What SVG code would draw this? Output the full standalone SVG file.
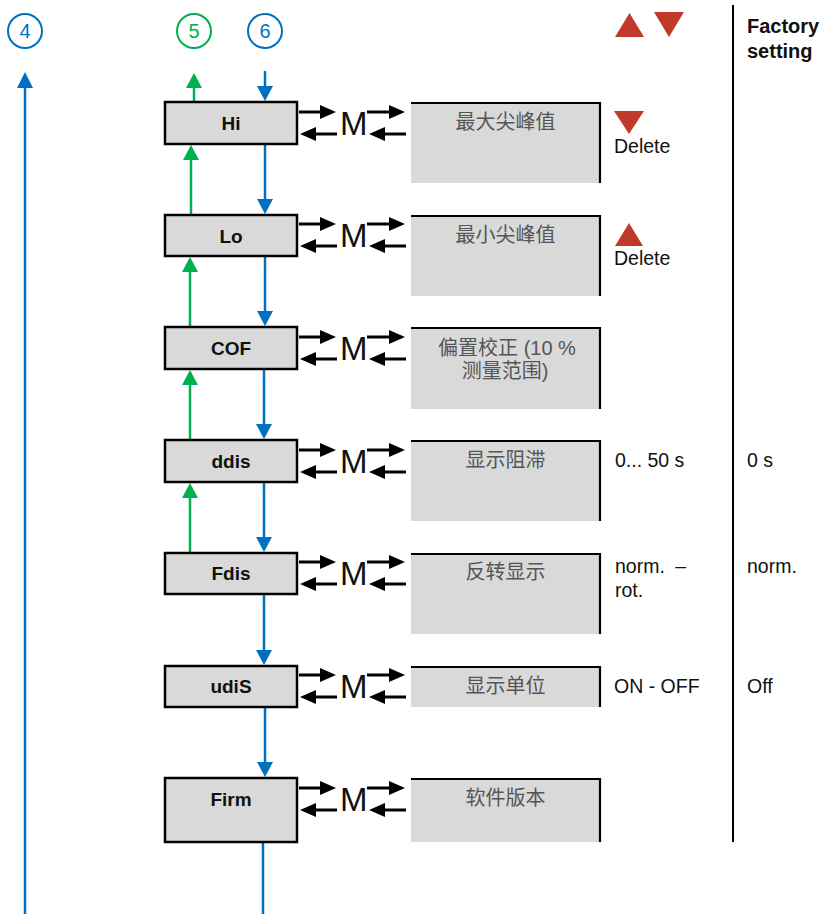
<svg xmlns="http://www.w3.org/2000/svg" width="825" height="914" viewBox="0 0 825 914">
<style>
.node{fill:#d9d9d9;stroke:#000;stroke-width:2.5}
.lbl{font-family:"Liberation Sans",Arial,sans-serif;font-weight:bold;font-size:19px;text-anchor:middle;fill:#111}
.disp{fill:#d9d9d9}
.edge{stroke:#000;stroke-width:2.2;fill:none}
.cjk{font-family:"Liberation Sans","Noto Sans CJK SC",sans-serif;font-size:20px;text-anchor:middle;fill:#555}
.rt{font-family:"Liberation Sans",Arial,sans-serif;font-size:19.5px;fill:#111}
.blue{stroke:#0070c0;stroke-width:2.5;fill:none}
.green{stroke:#00b050;stroke-width:2.5;fill:none}
.hb{fill:#0070c0}
.hg{fill:#00b050}
.red{fill:#c0392b}
.m{font-family:"Liberation Sans",Arial,sans-serif;font-size:33px;fill:#111}
.ma{stroke:#000;stroke-width:3}
</style>
<defs>
<g id="mpair">
<line class="ma" x1="299" y1="10" x2="322" y2="10"/>
<polygon points="320,3 336,10 320,17" fill="#000"/>
<line class="ma" x1="337" y1="32" x2="314" y2="32"/>
<polygon points="316,25 300,32 316,39" fill="#000"/>
<text class="m" x="340" y="33">M</text>
<line class="ma" x1="367" y1="10" x2="391" y2="10"/>
<polygon points="389,3 405,10 389,17" fill="#000"/>
<line class="ma" x1="406" y1="32" x2="383" y2="32"/>
<polygon points="385,25 369,32 385,39" fill="#000"/>
</g>
</defs>
<rect width="825" height="914" fill="#fff"/>

<!-- header -->
<g id="ref4">
<circle cx="25" cy="31" r="17" fill="none" stroke="#0070c0" stroke-width="2"/>
<text x="25" y="38" font-family="Liberation Sans,Arial,sans-serif" font-size="20" text-anchor="middle" fill="#0070c0">4</text>
</g>
<g id="ref5">
<circle cx="194" cy="31" r="17" fill="none" stroke="#00b050" stroke-width="2"/>
<text x="194" y="38" font-family="Liberation Sans,Arial,sans-serif" font-size="20" text-anchor="middle" fill="#00b050">5</text>
</g>
<g id="ref6">
<circle cx="265" cy="31" r="17" fill="none" stroke="#0070c0" stroke-width="2"/>
<text x="265" y="38" font-family="Liberation Sans,Arial,sans-serif" font-size="20" text-anchor="middle" fill="#0070c0">6</text>
</g>
<g id="keys">
<polygon class="red" points="615,37 629.5,13 644,37"/>
<polygon class="red" points="654,12 684,12 669,37"/>
</g>
<g id="factory">
<text x="747" y="33" font-family="Liberation Sans,Arial,sans-serif" font-weight="bold" font-size="20" fill="#111">Factory</text>
<text x="747" y="58" font-family="Liberation Sans,Arial,sans-serif" font-weight="bold" font-size="20" fill="#111">setting</text>
</g>
<line x1="733" y1="5" x2="733" y2="842" stroke="#000" stroke-width="2"/>

<!-- connectors -->
<g id="connectors">
<line class="blue" x1="25" y1="914" x2="25" y2="85"/>
<polygon class="hb" points="17,88 33,88 25,72"/>

<line class="green" x1="194" y1="102" x2="194" y2="86"/>
<polygon class="hg" points="186,88 202,88 194,73"/>
<line class="blue" x1="265" y1="71" x2="265" y2="88"/>
<polygon class="hb" points="257,86 273,86 265,101"/>

<line class="green" x1="191" y1="215" x2="191" y2="158"/>
<polygon class="hg" points="183,160 199,160 191,145"/>
<line class="blue" x1="265" y1="144" x2="265" y2="201"/>
<polygon class="hb" points="257,199 273,199 265,214"/>

<line class="green" x1="190" y1="327" x2="190" y2="270"/>
<polygon class="hg" points="182,272 198,272 190,257"/>
<line class="blue" x1="265" y1="257" x2="265" y2="313"/>
<polygon class="hb" points="257,311 273,311 265,326"/>

<line class="green" x1="190" y1="440" x2="190" y2="383"/>
<polygon class="hg" points="182,385 198,385 190,370"/>
<line class="blue" x1="264" y1="369" x2="264" y2="426"/>
<polygon class="hb" points="256,424 272,424 264,439"/>

<line class="green" x1="190" y1="553" x2="190" y2="496"/>
<polygon class="hg" points="182,498 198,498 190,483"/>
<line class="blue" x1="264" y1="482" x2="264" y2="539"/>
<polygon class="hb" points="256,537 272,537 264,552"/>

<line class="blue" x1="264" y1="594" x2="264" y2="652"/>
<polygon class="hb" points="256,650 272,650 264,665"/>

<line class="blue" x1="265" y1="707" x2="265" y2="764"/>
<polygon class="hb" points="257,762 273,762 265,777"/>

<line class="blue" x1="263" y1="842" x2="263" y2="914"/>
</g>

<!-- rows -->
<g id="Hi">
<rect class="node" x="165" y="102" width="132" height="42"/>
<text class="lbl" x="231" y="130">Hi</text>
<use href="#mpair" transform="translate(0,102)"/>
<rect class="disp" x="411" y="102" width="189" height="81"/>
<path class="edge" d="M411,103 H600 V183"/>
<text class="cjk" x="505.5" y="129">最大尖峰值</text>
<polygon class="red" points="614,111 644,111 629,134"/>
<text class="rt" x="614" y="153">Delete</text>
</g>

<g id="Lo">
<rect class="node" x="165" y="215" width="132" height="41"/>
<text class="lbl" x="231" y="243">Lo</text>
<use href="#mpair" transform="translate(0,214)"/>
<rect class="disp" x="411" y="215" width="189" height="81"/>
<path class="edge" d="M411,216 H600 V296"/>
<text class="cjk" x="505.5" y="242">最小尖峰值</text>
<polygon class="red" points="615,246 629,223 643,246"/>
<text class="rt" x="614" y="265">Delete</text>
</g>

<g id="COF">
<rect class="node" x="165" y="327" width="132" height="42"/>
<text class="lbl" x="231" y="355">COF</text>
<use href="#mpair" transform="translate(0,327)"/>
<rect class="disp" x="411" y="327" width="189" height="82"/>
<path class="edge" d="M411,328 H600 V409"/>
<text class="cjk" x="507" y="355">偏置校正 (10 %</text>
<text class="cjk" x="505" y="378">测量范围)</text>
</g>

<g id="ddis">
<rect class="node" x="165" y="440" width="132" height="42"/>
<text class="lbl" x="231" y="468">ddis</text>
<use href="#mpair" transform="translate(0,440)"/>
<rect class="disp" x="411" y="440" width="189" height="81"/>
<path class="edge" d="M411,441 H600 V521"/>
<text class="cjk" x="505.5" y="467">显示阻滞</text>
<text class="rt" x="615" y="467">0... 50 s</text>
<text class="rt" x="747" y="467">0 s</text>
</g>

<g id="Fdis">
<rect class="node" x="165" y="553" width="132" height="41"/>
<text class="lbl" x="231" y="580">Fdis</text>
<use href="#mpair" transform="translate(0,552)"/>
<rect class="disp" x="411" y="553" width="189" height="81"/>
<path class="edge" d="M411,554 H600 V634"/>
<text class="cjk" x="505.5" y="579">反转显示</text>
<text class="rt" x="615" y="573">norm. <tspan dx="5">–</tspan></text>
<text class="rt" x="615" y="597">rot.</text>
<text class="rt" x="747" y="573">norm.</text>
</g>

<g id="udiS">
<rect class="node" x="165" y="666" width="132" height="41"/>
<text class="lbl" x="231" y="693">udiS</text>
<use href="#mpair" transform="translate(0,665)"/>
<rect class="disp" x="411" y="666" width="189" height="41"/>
<path class="edge" d="M411,667 H600 V707"/>
<text class="cjk" x="505.5" y="693">显示单位</text>
<text class="rt" x="614" y="693">ON - OFF</text>
<text class="rt" x="747" y="693">Off</text>
</g>

<g id="Firm">
<rect class="node" x="165" y="778" width="132" height="64"/>
<text class="lbl" x="231" y="806">Firm</text>
<use href="#mpair" transform="translate(0,778)"/>
<rect class="disp" x="411" y="778" width="189" height="64"/>
<path class="edge" d="M411,779 H600 V842"/>
<text class="cjk" x="505.5" y="805">软件版本</text>
</g>
</svg>
